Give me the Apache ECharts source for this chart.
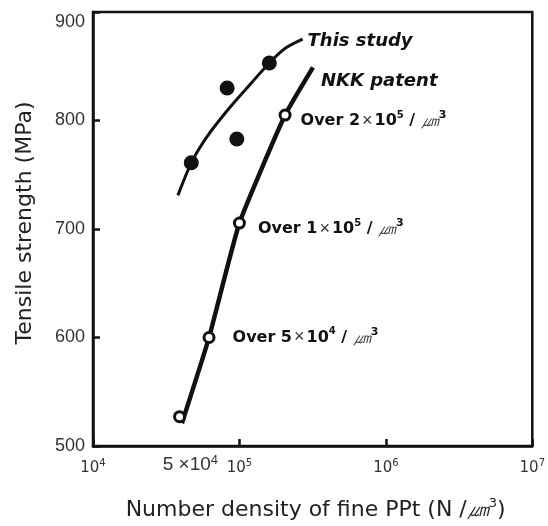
<!DOCTYPE html>
<html><head><meta charset="utf-8">
<script src="https://cdn.jsdelivr.net/npm/echarts@6/dist/echarts.min.js"></script>
<style>html,body{margin:0;padding:0;background:#fff}#c{width:548px;height:526px}</style>
</head><body><div id="c"></div>
<script>
// Data
var thisStudyPoints = [[4.69e4, 761], [8.24e4, 830], [9.6e4, 783], [1.6e5, 853]];
var thisStudyCurve = [[3.8e4, 731], [4.69e4, 761], [5.93e4, 784], [8.13e4, 808], [1.11e5, 829], [1.6e5, 853], [2.08e5, 867], [2.7e5, 875]];
var nkkPoints = [[3.9e4, 527], [6.2e4, 600], [1.0e5, 705.5], [2.05e5, 805]];
var nkkCurve = [[4.05e4, 521], [6.2e4, 600], [1.0e5, 705.5], [2.05e5, 805], [3.18e5, 849]];
var nkkLabels = ['', 'Over 5×10⁴', 'Over 1×10⁵', 'Over 2×10⁵'];
var seriesNames = ['This study', 'NKK patent'];
var xExtraTick = [5e4];
var yTicks = [500, 600, 700, 800, 900];

var chart = echarts.init(document.getElementById('c'));
var font = '"DejaVu Sans", Verdana, sans-serif';
var lfont = '"Liberation Sans", Arial, sans-serif';

var annRich = {
  b: {fontFamily: font, fontWeight: 'bold', fontSize: 16, color: '#111', lineHeight: 22, verticalAlign: 'middle'},
  x: {fontFamily: lfont, fontSize: 18, color: '#333', lineHeight: 22, verticalAlign: 'middle', padding: [0, 2, 0, 2]},
  s: {fontFamily: font, fontWeight: 'bold', fontSize: 10, color: '#111', lineHeight: 13, verticalAlign: 'top'},
  u: {fontFamily: lfont, fontStyle: 'italic', fontSize: 18, color: '#333', lineHeight: 22, verticalAlign: 'middle'},
  us: {fontFamily: font, fontWeight: 'bold', fontSize: 11, color: '#111', lineHeight: 13, verticalAlign: 'top'}
};
function annText(s) {
  var m = s.match(/^Over (\d)×10(.)$/);
  var sup = {'⁴': '4', '⁵': '5'}[m[2]];
  return '{b|Over ' + m[1] + '}{x|×}{b|10}{s|' + sup + '}{b| / }{u|㎛}{us|3}';
}
var offs = [[0, 0], [17, 0], [12, 6], [9, 6]];
var nkkPointData = nkkPoints.map(function (p, i) {
  if (!nkkLabels[i]) return {value: p};
  return {value: p, label: {show: true, position: 'right', distance: offs[i][0], offset: [0, offs[i][1]], formatter: annText(nkkLabels[i]), rich: annRich}};
});

var nameStyle = {fontFamily: font, fontWeight: 'bold', fontStyle: 'italic', fontSize: 18, color: '#111'};

chart.setOption({
  animation: false,
  grid: {left: 93, right: 14, top: 12, bottom: 74, show: true, borderColor: '#111', borderWidth: 2.5},
  xAxis: {
    type: 'log', logBase: 10, min: 1e4, max: 1e7,
    name: 'Number density of fine PPt (N /{u|㎛}{s|3})', nameLocation: 'middle', nameGap: 51,
    nameTextStyle: {fontFamily: font, fontSize: 22, color: '#222', padding: [0, 0, 0, 6],
      rich: {u: {fontFamily: lfont, fontStyle: 'italic', fontSize: 22, color: '#222', lineHeight: 26, verticalAlign: 'middle'},
             s: {fontFamily: font, fontSize: 13, color: '#222', lineHeight: 15, verticalAlign: 'top'}}},
    axisLine: {show: true, lineStyle: {color: '#111', width: 2.5}},
    axisTick: {show: true, inside: true, length: 7, lineStyle: {color: '#111', width: 2.5}},
    minorTick: {show: false},
    splitLine: {show: false},
    axisLabel: {margin: 12, color: '#333',
      formatter: function (v) { var e = Math.round(Math.log10(v)); return '{n|10}{s|' + e + '}'; },
      rich: {n: {fontFamily: font, fontSize: 15, color: '#333', lineHeight: 20, verticalAlign: 'middle'},
             s: {fontFamily: font, fontSize: 10, color: '#333', lineHeight: 12, verticalAlign: 'top'}}}
  },
  yAxis: {
    type: 'value', min: 500, max: 900, interval: 100,
    name: 'Tensile strength (MPa)', nameLocation: 'middle', nameGap: 57,
    nameTextStyle: {fontFamily: font, fontSize: 22, color: '#222', padding: [0, 0, 0, 12]},
    axisLine: {show: true, lineStyle: {color: '#111', width: 2.5}},
    axisTick: {show: true, inside: true, length: 7, lineStyle: {color: '#111', width: 2.5}},
    splitLine: {show: false},
    axisLabel: {margin: 8, color: '#333',
      formatter: function (v) { return v === 900 ? '{t|' + v + '}' : '{n|' + v + '}'; },
      rich: {n: {fontFamily: lfont, fontSize: 18, color: '#333'},
             t: {fontFamily: lfont, fontSize: 18, color: '#333', padding: [20, 0, 0, 0]}}}
  },
  series: [
    {type: 'line', data: thisStudyCurve, smooth: 0.25, symbol: 'none', lineStyle: {color: '#111', width: 3}, z: 2},
    {type: 'scatter', data: thisStudyPoints, symbol: 'circle', symbolSize: 15, itemStyle: {color: '#111', opacity: 1}, z: 3},
    {type: 'line', data: nkkCurve, smooth: 0.15, symbol: 'none', lineStyle: {color: '#111', width: 4.5}, z: 4},
    {type: 'scatter', data: nkkPointData, symbol: 'circle', symbolSize: 10,
     itemStyle: {color: '#fff', borderColor: '#111', borderWidth: 3, opacity: 1}, z: 5},
    {type: 'scatter', clip: false, symbolSize: 0, silent: true, z: 6, itemStyle: {opacity: 1},
     data: [
       {value: thisStudyCurve[thisStudyCurve.length - 1], label: {show: true, position: 'right', distance: 5, offset: [0, 2], formatter: seriesNames[0]}},
       {value: nkkCurve[nkkCurve.length - 1], label: {show: true, position: 'right', distance: 8, offset: [0, 14], formatter: seriesNames[1]}}
     ],
     label: nameStyle},
    {type: 'scatter', clip: false, symbolSize: 0, silent: true, itemStyle: {opacity: 1},
     data: xExtraTick.map(function (v) { return [v, yTicks[0]]; }),
     label: {show: true, position: 'bottom', distance: 8, offset: [-5, 0],
       formatter: '{n|5 ×10}{s|4}',
       rich: {n: {fontFamily: lfont, fontSize: 19, color: '#333', lineHeight: 22, verticalAlign: 'middle'},
              s: {fontFamily: lfont, fontSize: 13, color: '#333', lineHeight: 14, verticalAlign: 'top'}}}}
  ]
});
</script></body></html>
